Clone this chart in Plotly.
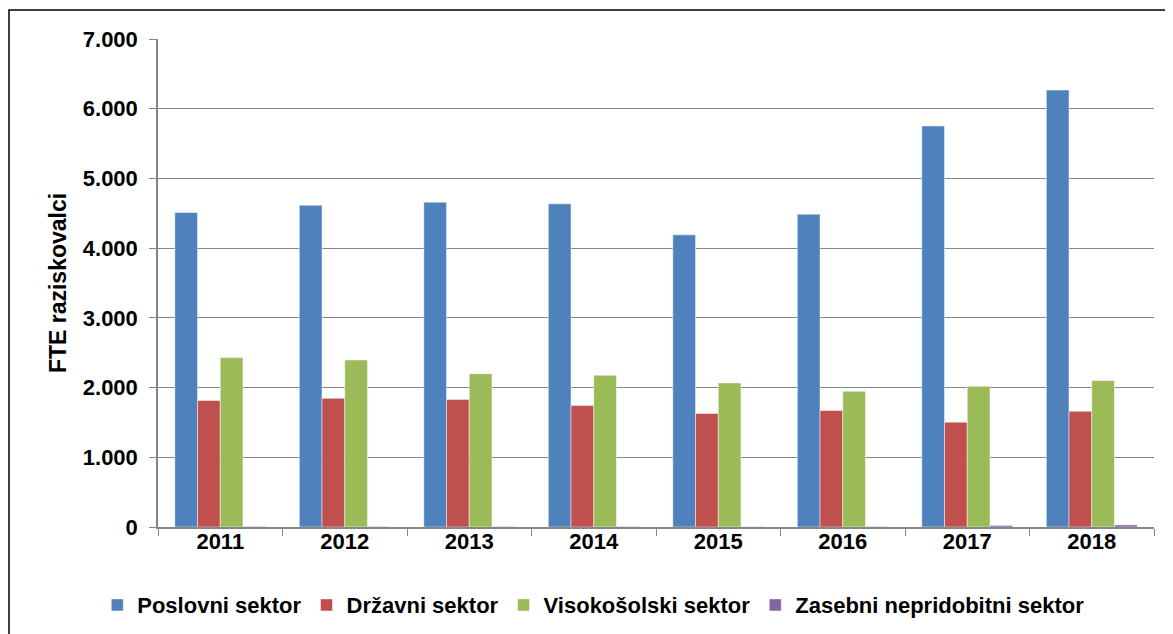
import plotly.graph_objects as go

# DATA -----------------------------------------------------------------------
years = ['2011', '2012', '2013', '2014', '2015', '2016', '2017', '2018']
poslovni = [4511, 4616, 4659, 4635, 4191, 4487, 5752, 6267]
drzavni = [1814, 1847, 1828, 1742, 1628, 1671, 1504, 1661]
visokosolski = [2430, 2396, 2200, 2177, 2067, 1947, 2019, 2100]
zasebni = [8, 7, 7, 6, 5, 6, 22, 30]

series = [
    ('Poslovni sektor', poslovni, '#4F81BD'),
    ('Državni sektor', drzavni, '#C0504D'),
    ('Visokošolski sektor', visokosolski, '#9BBB59'),
    ('Zasebni nepridobitni sektor', zasebni, '#8064A2'),
]

# PLOT -----------------------------------------------------------------------
fig = go.Figure()
for name, vals, col in series:
    fig.add_trace(go.Bar(x=years, y=vals, name=name,
                         marker=dict(color=col, line=dict(color='rgba(255,255,255,0.6)', width=0.8))))

font = 'Liberation Sans, Arial, sans-serif'
# page body has an 8px margin, so the figure is a bit smaller than the window
fig.update_layout(
    barmode='group',
    bargap=0.27,
    bargroupgap=0,
    width=1165, height=626,
    margin=dict(l=150, r=19, t=31, b=107, autoexpand=False),
    plot_bgcolor='white', paper_bgcolor='white',
    separators=',.',
    font=dict(family=font, color='black', size=22, weight='bold'),
    legend=dict(orientation='h', x=0.437, xanchor='center', y=-0.16, yanchor='middle',
                font=dict(size=22, color='black', weight='bold'), itemwidth=30, tracegroupgap=0),
)
fig.update_yaxes(range=[0, 7000], dtick=1000, tickformat=',d', automargin=False,
                 showgrid=True, gridcolor='#868686', gridwidth=1,
                 showline=True, linecolor='#868686', linewidth=1.5,
                 ticks='outside', ticklen=7, tickcolor='#868686',
                 ticklabelstandoff=7,
                 tickfont=dict(size=22, family=font, weight='bold'),
                 title=dict(text='FTE raziskovalci', standoff=10,
                            font=dict(size=23, family=font, weight='bold')),
                 zeroline=False)
fig.update_xaxes(showline=True, linecolor='#868686', linewidth=1.5, automargin=False,
                 ticks='outside', ticklen=7, tickcolor='#868686', tickson='boundaries',
                 ticklabelstandoff=-6,
                 tickfont=dict(size=22, family=font, weight='bold'))

# chart border (only top and left edges fall inside the picture)
fig.add_shape(type='rect', xref='paper', yref='paper',
              x0=-0.1496, x1=1.05, y0=-0.3, y1=1.0594,
              line=dict(color='black', width=1.5), fillcolor='rgba(0,0,0,0)', layer='below')

fig.write_html("out.html")
